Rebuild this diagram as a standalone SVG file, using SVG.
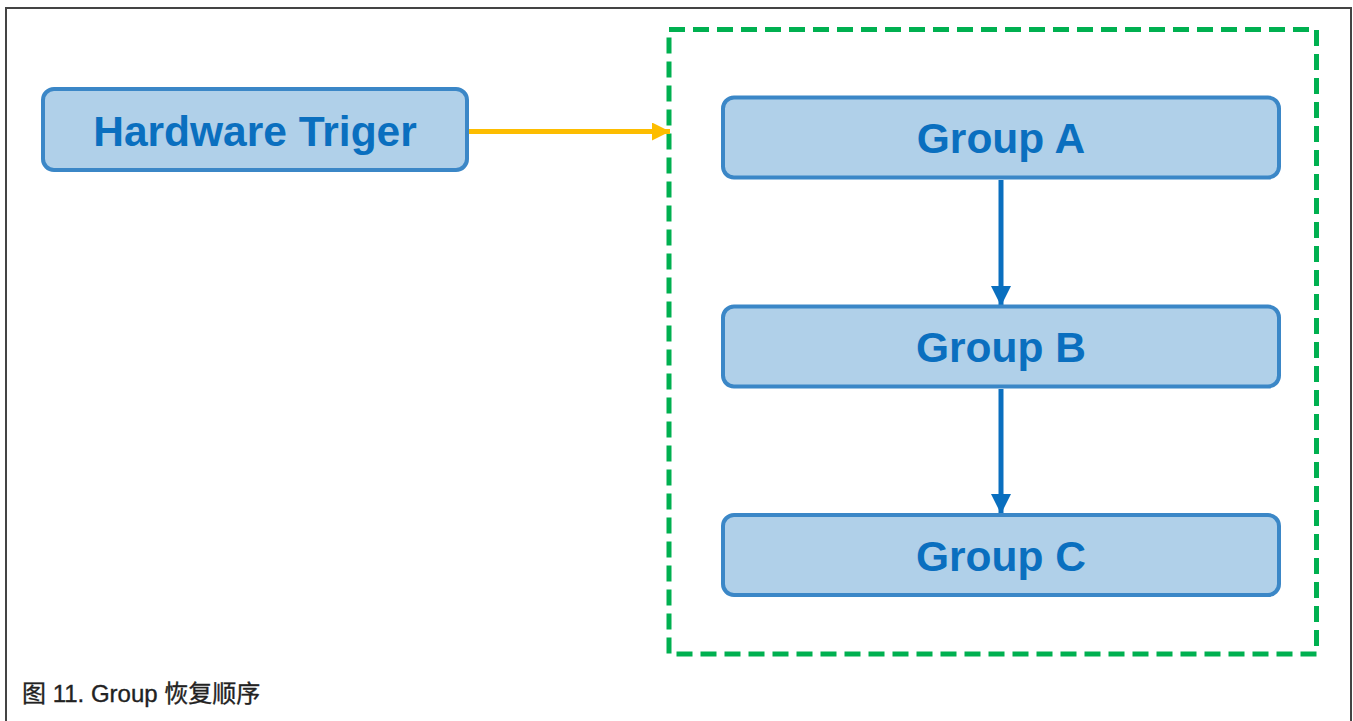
<svg xmlns="http://www.w3.org/2000/svg" width="1353" height="721" viewBox="0 0 1353 721">
<style>
.node rect{fill:#b0d0e9;stroke:#3b87c7;stroke-width:4}
.node text{font-family:"Liberation Sans",Arial,sans-serif;font-weight:bold;font-size:42.5px;fill:#0a6fbf;text-anchor:middle}
.cap{font-family:"Liberation Sans","Noto Sans CJK SC",sans-serif;font-size:24px;fill:#222;stroke:#222;stroke-width:0.35}
</style>
<defs>
<marker id="ay" viewBox="0 0 10 10" refX="10" refY="5" markerWidth="18" markerHeight="18" markerUnits="userSpaceOnUse" orient="auto"><path d="M0,0 L10,5 L0,10 Z" fill="#fdbd00"/></marker>
<marker id="ab" viewBox="0 0 10 10" refX="10" refY="5" markerWidth="20" markerHeight="20" markerUnits="userSpaceOnUse" orient="auto"><path d="M0,0 L10,5 L0,10 Z" fill="#0a6fbf"/></marker>
</defs>
<rect width="1353" height="721" fill="#fff"/>
<path d="M6,721 V8 H1351 V721" fill="none" stroke="#444" stroke-width="2"/>
<rect id="container" x="669" y="29.5" width="647.5" height="624.5" fill="none" stroke="#00b050" stroke-width="5" stroke-dasharray="16,8"/>
<g id="connectors">
<line x1="469" y1="131.5" x2="670" y2="131.5" stroke="#fdbd00" stroke-width="5" marker-end="url(#ay)"/>
<line x1="1001" y1="180" x2="1001" y2="306" stroke="#0a6fbf" stroke-width="5" marker-end="url(#ab)"/>
<line x1="1001" y1="389" x2="1001" y2="514" stroke="#0a6fbf" stroke-width="5" marker-end="url(#ab)"/>
</g>
<g id="hw" class="node"><rect x="43" y="89" width="424" height="81" rx="11"/><text x="255" y="146">Hardware Triger</text></g>
<g id="groupA" class="node"><rect x="723" y="97.5" width="556" height="80" rx="11"/><text x="1001" y="153">Group A</text></g>
<g id="groupB" class="node"><rect x="723" y="306.5" width="556" height="80" rx="11"/><text x="1001" y="362">Group B</text></g>
<g id="groupC" class="node"><rect x="723" y="515" width="556" height="80" rx="11"/><text x="1001" y="571">Group C</text></g>
<text class="cap" x="22" y="702">图 11. Group 恢复顺序</text>
</svg>
